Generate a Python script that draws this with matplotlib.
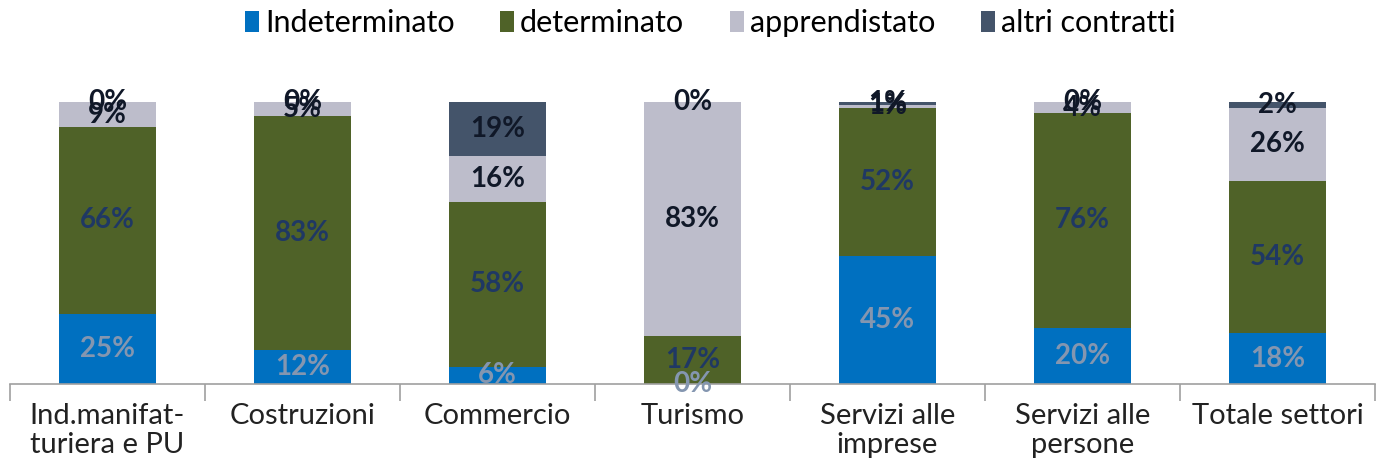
import numpy as np
import matplotlib.pyplot as plt

plt.rcParams['font.family'] = ['Lato', 'DejaVu Sans']

settori = ['Ind.manifat-\nturiera e PU', 'Costruzioni', 'Commercio', 'Turismo',
           'Servizi alle\nimprese', 'Servizi alle\npersone', 'Totale settori']
indeterminato = [25, 12, 6, 0, 45, 20, 18]
determinato = [66, 83, 58, 17, 52, 76, 54]
apprendistato = [9, 5, 16, 83, 1, 4, 26]
altri = [0, 0, 19, 0, 1, 0, 2]

serie = [('Indeterminato', indeterminato, '#0070C0', '#8496B0'),
         ('determinato', determinato, '#4F6228', '#1F3864'),
         ('apprendistato', apprendistato, '#BDBDCB', '#101828'),
         ('altri contratti', altri, '#44546A', '#101828')]

# grafico a barre in pila al 100%
totali = np.sum([s[1] for s in serie], axis=0).astype(float)

fig = plt.figure(figsize=(13.79, 4.63), dpi=100)
ax = fig.add_axes([10/1379, (463-384)/463, 1365/1379, 282/463])

x = np.arange(len(settori))
base = np.zeros(len(settori))
for nome, vals, col, tcol in serie:
    vals = np.array(vals, dtype=float)
    h = vals / totali * 100
    ax.bar(x, h, 0.5, bottom=base, color=col, label=nome, edgecolor='none')
    for xi, b, hi, v in zip(x, base, h, vals):
        ax.text(xi, b + hi/2, '%d%%' % v, ha='center', va='center',
                fontsize=20, fontweight='bold', color=tcol)
    base = base + h

ax.set_xlim(-0.5, 6.5)
ax.set_ylim(0, 100)
for s in ['top', 'right', 'left']:
    ax.spines[s].set_visible(False)
ax.spines['bottom'].set_color('#A0A0A0')
ax.spines['bottom'].set_linewidth(1.2)
ax.set_yticks([])
ax.set_xticks(x)
ax.set_xticklabels(settori, fontsize=21, color='#222222', linespacing=1.1)
ax.tick_params(axis='x', which='major', length=0, pad=14)
ax.set_xticks(np.arange(-0.5, 7, 1), minor=True)
ax.tick_params(axis='x', which='minor', length=12, color='#A0A0A0', width=1.2)

fig.legend(loc='upper center', bbox_to_anchor=(0.515, 1.04), ncol=4, frameon=False,
           fontsize=22, handlelength=0.45, handleheight=0.7, handletextpad=0.2,
           columnspacing=1.5)

plt.savefig('out.png')
